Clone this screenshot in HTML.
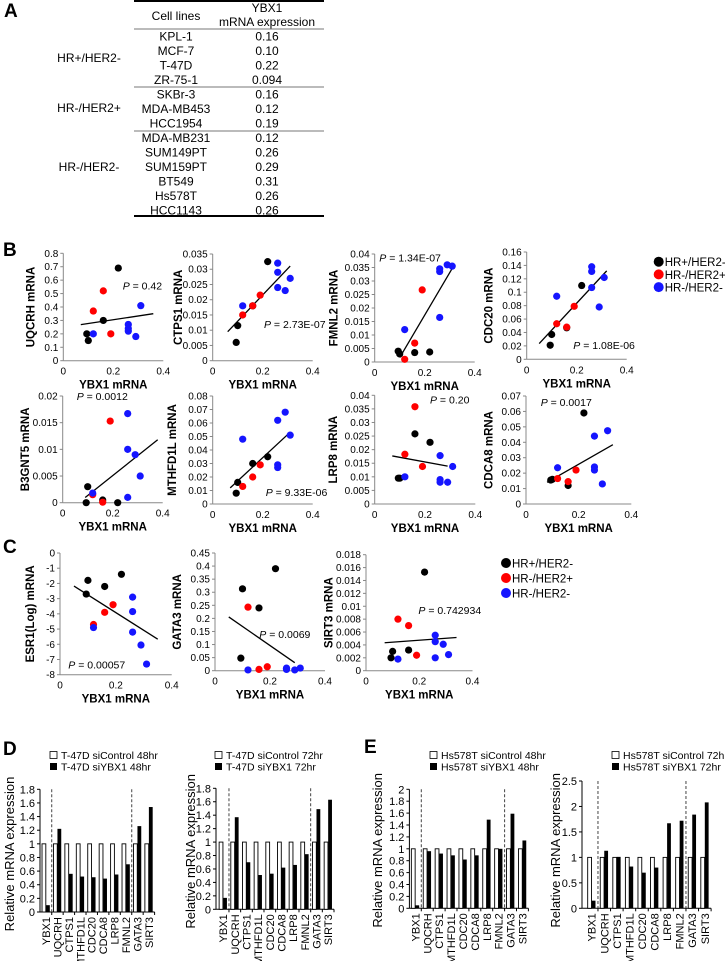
<!DOCTYPE html>
<html><head><meta charset="utf-8">
<style>
html,body{margin:0;padding:0;background:#fff;}
svg{display:block;font-family:"Liberation Sans",Arial,sans-serif;}
</style></head>
<body>
<svg id="fig" width="725" height="961" viewBox="0 0 725 961" xmlns="http://www.w3.org/2000/svg">
<g id="tableA" font-size="12" fill="#000">
  <text x="4" y="17" font-size="19" font-weight="bold">A</text>
  <line x1="134" y1="1" x2="324" y2="1" stroke="#000" stroke-width="2"/>
  <text x="176" y="20" text-anchor="middle">Cell lines</text>
  <text x="267" y="12" text-anchor="middle">YBX1</text>
  <text x="267" y="26" text-anchor="middle">mRNA expression</text>
  <line x1="134" y1="29" x2="324" y2="29" stroke="#777" stroke-width="1"/>
  <line x1="134" y1="87" x2="324" y2="87" stroke="#777" stroke-width="1"/>
  <line x1="134" y1="131" x2="324" y2="131" stroke="#777" stroke-width="1"/>
  <line x1="134" y1="216" x2="324" y2="216" stroke="#000" stroke-width="2"/>
  <text x="89" y="62" text-anchor="middle">HR+/HER2-</text>
  <text x="89" y="112" text-anchor="middle">HR-/HER2+</text>
  <text x="89" y="171" text-anchor="middle">HR-/HER2-</text>
  <g id="tableRows"></g>
</g>
<g id="plots"></g>
</svg>
<script>
// ---- data ----
const cellLines=["KPL-1","MCF-7","T-47D","ZR-75-1","SKBr-3","MDA-MB453","HCC1954","MDA-MB231","SUM149PT","SUM159PT","BT549","Hs578T","HCC1143"];
const cellX=[0.16,0.10,0.22,0.094,0.16,0.12,0.19,0.12,0.26,0.29,0.31,0.26,0.26];
const cellXLabels=["0.16","0.10","0.22","0.094","0.16","0.12","0.19","0.12","0.26","0.29","0.31","0.26","0.26"];
const groupIdx=[0,0,0,0,1,1,1,2,2,2,2,2,2];
const groupNames=["HR+/HER2-","HR-/HER2+","HR-/HER2-"];
const groupColors=["#000","#f00","#1515ff"];

const yUQCRH=[0.30,0.15,0.69,0.20,0.52,0.37,0.20,0.20,0.27,0.18,0.41,0.24,0.22];
const yCTPS1=[0.018,0.0115,0.0325,0.006,0.018,0.015,0.0215,0.018,0.032,0.023,0.027,0.029,0.024];
const yFMNL2=[0.0035,0.003,0.0037,0.004,0.007,0.001,0.0267,0.012,0.0345,0.036,0.0355,0.0335,0.0165];
const yCDC20=[0.047,0.037,0.11,0.021,0.048,0.053,0.079,0.094,0.138,0.078,0.122,0.131,0.107];
const yB3GNT5=[0.0005,0.003,0,0,0.0001,0.0015,0.0153,0.0018,0.0167,0.009,0.005,0.01,0.001];
const yMTHFD1L=[0.030,0.016,0.035,0.008,0.020,0.013,0.029,0.048,0.062,0.068,0.051,0.029,0.027];
const yLRP8=[0.0258,0.0095,0.0227,0.0095,0.0358,0.0183,0.0138,0.01,0.0178,0.008,0.0138,0.009,0.008];
const yCDCA8=[0.012,0.016,0.059,0.0155,0.0145,0.0165,0.022,0.0235,0.044,0.013,0.0475,0.024,0.022];
const yESR1=[-2.2,-1.8,-1.4,-2.7,-3.9,-4.7,-3.4,-4.9,-2.9,-6.05,-7.3,-3.85,-5.2];
const yGATA3=[0.24,0.313,0.39,0.048,0.005,0.243,0.015,0.003,0.01,0.003,0.01,0.005,0.008];
const ySIRT3=[0.0032,0.003,0.0153,0.002,0.007,0.008,0.0024,0.0018,0.0055,0.0041,0.0025,0.0045,0.002];
const pLabels=["0.42","2.73E-07","1.34E-07","1.08E-06","0.0012","9.33E-06","0.20","0.0017","0.00057","0.0069","0.742934"];

const barCats=["YBX1","UQCRH","CTPS1","MTHFD1L","CDC20","CDCA8","LRP8","FMNL2","GATA3","SIRT3"];
const ctrlD48=[1,1,1,1,1,1,1,1,1,1];
const siD48=[0.1,1.22,0.56,0.52,0.51,0.49,0.55,0.7,1.26,1.54];
const ctrlD72=[1,1,1,1,1,1,1,1,1,1];
const siD72=[0.17,1.37,0.7,0.51,0.53,0.62,0.66,0.82,1.49,1.63];
const ctrlE48=[1,1,1,1,1,1,1,1,1,1];
const siE48=[0.05,0.96,0.92,0.89,0.82,0.89,1.49,1.0,1.59,1.14];
const ctrlE72=[1,1,1,1,1,1,1,1,1,1];
const siE72=[0.15,1.13,1.01,0.82,0.7,0.8,1.67,1.72,1.84,2.08];

const NS="http://www.w3.org/2000/svg";
function mk(tag,attrs,parent,txt){const e=document.createElementNS(NS,tag);for(const k in attrs)e.setAttribute(k,attrs[k]);if(txt!==undefined)e.textContent=txt;parent.appendChild(e);return e;}
const root=document.getElementById('plots');

// table rows
const tr=document.getElementById('tableRows');
cellLines.forEach((c,i)=>{
  const y=40.5+i*14.5;
  const t1=mk('text',{x:176,y:y,'text-anchor':'middle'},tr,c);
  
  
  const t2=mk('text',{x:267,y:y,'text-anchor':'middle'},tr,cellXLabels[i]);
  
  
});

function fmt(v){return String(Math.round(v*1e6)/1e6);}

function scatter(c){
  const g=mk('g',{},root);
  
  
  const sx=v=>c.ax+(c.x4-c.ax)*v/0.4;
  const sy=v=>c.bot-(c.bot-c.top)*(v-c.ymin)/(c.ymax-c.ymin);
  mk('line',{x1:c.ax,y1:c.top,x2:c.ax,y2:c.bot,stroke:'#888','stroke-width':1},g);
  mk('line',{x1:c.ax,y1:c.bot,x2:c.x4,y2:c.bot,stroke:'#888','stroke-width':1},g);
  const n=Math.round((c.ymax-c.ymin)/c.step);
  for(let i=0;i<=n;i++){const v=c.ymin+i*c.step;const y=sy(v);
    mk('line',{x1:c.ax-3,y1:y,x2:c.ax,y2:y,stroke:'#888'},g);
    const t=mk('text',{x:c.ax-5,y:y+3.5,'text-anchor':'end','font-size':10},g,fmt(v));
    
    
  }
  [0,0.2,0.4].forEach(v=>{
    const t=mk('text',{x:sx(v),y:c.bot+14,'text-anchor':'middle','font-size':10},g,fmt(v));
    
    
  });
  const xl=mk('text',{x:(c.ax+c.x4)/2,y:c.bot+28,'text-anchor':'middle','font-size':11.5,'font-weight':'bold'},g,'YBX1 mRNA');
  
  
  const yl=mk('text',{x:0,y:0,'text-anchor':'middle','font-size':11.5,'font-weight':'bold',transform:`translate(${c.ylx+4},${(c.top+c.bot)/2}) rotate(-90)`},g,c.ylabel);
  
  
  // regression
  const ys=c.ys;let mx=0,my=0;cellX.forEach((x,i)=>{mx+=x;my+=ys[i];});mx/=cellX.length;my/=cellX.length;
  let sxy=0,sxx=0;cellX.forEach((x,i)=>{sxy+=(x-mx)*(ys[i]-my);sxx+=(x-mx)*(x-mx);});
  const b=sxy/sxx,a=my-b*mx;
  const fl=mk('line',{x1:sx(c.f0),y1:sy(a+b*c.f0),x2:sx(c.f1),y2:sy(a+b*c.f1),stroke:'#000','stroke-width':1.3},g);
  
  
  cellX.forEach((x,i)=>{
    const p=mk('circle',{cx:sx(x),cy:sy(ys[i]),r:3.6,fill:groupColors[groupIdx[i]]},g);
    
    
  });
  const pt=mk('text',{x:c.px,y:c.py+3.5,'font-size':10.5},g);
  
  
  mk('tspan',{'font-style':'italic'},pt,'P');
  mk('tspan',{},pt,' = '+pLabels[c.pi]);
}

scatter({id:'uqcrh-plot',ylabel:'UQCRH mRNA',ys:yUQCRH,ax:63.3,x4:163.3,top:253.3,bot:360.7,ymin:0,ymax:0.8,step:0.1,pi:0,px:122.7,py:286,ylx:30.7,f0:0.07,f1:0.36});
scatter({id:'ctps1-plot',ylabel:'CTPS1 mRNA',ys:yCTPS1,ax:212.7,x4:312.7,top:254,bot:360.7,ymin:0,ymax:0.035,step:0.005,pi:1,px:264,py:324.7,ylx:178,f0:0.06,f1:0.31});
scatter({id:'fmnl2-plot',ylabel:'FMNL2 mRNA',ys:yFMNL2,ax:374.7,x4:474.7,top:254,bot:362,ymin:0,ymax:0.04,step:0.005,pi:2,px:379.3,py:258,ylx:333.3,f0:0.1,f1:0.32});
scatter({id:'cdc20-plot',ylabel:'CDC20 mRNA',ys:yCDC20,ax:526.7,x4:626.7,top:252,bot:359.3,ymin:0,ymax:0.16,step:0.02,pi:3,px:573.3,py:345.7,ylx:488.7,f0:0.05,f1:0.32});
scatter({id:'b3gnt5-plot',ylabel:'B3GNT5 mRNA',ys:yB3GNT5,ax:62.7,x4:162.7,top:396,bot:502.7,ymin:0,ymax:0.02,step:0.005,pi:4,px:76.7,py:396.7,ylx:25,f0:0.09,f1:0.38});
scatter({id:'mthfd1l-plot',ylabel:'MTHFD1L mRNA',ys:yMTHFD1L,ax:212.7,x4:312.7,top:396,bot:504,ymin:0,ymax:0.08,step:0.01,pi:5,px:265.7,py:492.3,ylx:172,f0:0.07,f1:0.31});
scatter({id:'lrp8-plot',ylabel:'LRP8 mRNA',ys:yLRP8,ax:374.7,x4:475.3,top:395.3,bot:504,ymin:0,ymax:0.04,step:0.005,pi:6,px:430,py:400,ylx:333,f0:0.07,f1:0.29});
scatter({id:'cdca8-plot',ylabel:'CDCA8 mRNA',ys:yCDCA8,ax:526,x4:631.3,top:396,bot:504,ymin:0,ymax:0.07,step:0.01,pi:7,px:540.7,py:402.7,ylx:488.7,f0:0.08,f1:0.33});
scatter({id:'esr1-plot',ylabel:'ESR1(Log) mRNA',ys:yESR1,ax:60,x4:171.7,top:553,bot:674.7,ymin:-8,ymax:0,step:1,pi:8,px:68.3,py:665,ylx:30,f0:0.05,f1:0.35});
scatter({id:'gata3-plot',ylabel:'GATA3 mRNA',ys:yGATA3,ax:215,x4:325,top:553,bot:670.7,ymin:0,ymax:0.45,step:0.05,pi:9,px:259.3,py:634.7,ylx:177,f0:0.05,f1:0.29});
scatter({id:'sirt3-plot',ylabel:'SIRT3 mRNA',ys:ySIRT3,ax:366,x4:472.5,top:554.7,bot:670.7,ymin:0,ymax:0.018,step:0.002,pi:10,px:418.4,py:610.7,ylx:328.3,f0:0.07,f1:0.34});

function legend(x,y0,dy,id){
  const g=mk('g',{},root);
  
  
  groupNames.forEach((n,i)=>{
    mk('circle',{cx:x,cy:y0+i*dy,r:5,fill:groupColors[i]},g);
    const t=mk('text',{x:x+6,y:y0+i*dy+4.5,'font-size':11.5},g,n);
    
    
  });
}
legend(658.7,261.7,12.7,'legend-b');
legend(506,563,15,'legend-c');

function panelLabel(t,x,y,name){const e=mk('text',{x:x,y:y,'font-size':19,'font-weight':'bold'},root,t);}
panelLabel('B',3,256,'panel-b-label');
panelLabel('C',3,553,'panel-c-label');
panelLabel('D',3,755,'panel-d-label');
panelLabel('E',364,753,'panel-e-label');

function bars(c){
  const g=mk('g',{},root);
  
  
  const sy=v=>c.bot-(c.bot-c.top)*v/c.ymax;
  const xEnd=c.x0+c.gw*barCats.length;
  mk('line',{x1:c.ax,y1:c.top,x2:c.ax,y2:c.bot,stroke:'#000','stroke-width':1},g);
  mk('line',{x1:c.ax,y1:c.bot,x2:xEnd,y2:c.bot,stroke:'#000','stroke-width':1},g);
  const n=Math.round(c.ymax/c.step);
  for(let i=0;i<=n;i++){const v=i*c.step,y=sy(v);
    mk('line',{x1:c.ax-3,y1:y,x2:c.ax,y2:y,stroke:'#000'},g);
    const t=mk('text',{x:c.ax-5,y:y+4,'text-anchor':'end','font-size':11},g,fmt(v));
    
    
  }
  [1,8].forEach(k=>{const d=mk('line',{x1:c.x0+k*c.gw,y1:c.top,x2:c.x0+k*c.gw,y2:c.bot,stroke:'#444','stroke-dasharray':'3,2'},g);
    
    });
  barCats.forEach((cat,i)=>{
    const cx=c.x0+c.gw*(i+0.5);
    mk('line',{x1:c.x0+c.gw*(i+1),y1:c.bot,x2:c.x0+c.gw*(i+1),y2:c.bot+3,stroke:'#000'},g);
    const w=mk('rect',{x:cx-4,y:sy(c.ctrl[i]),width:3.8,height:c.bot-sy(c.ctrl[i]),fill:'#fff',stroke:'#000','stroke-width':0.9},g);
    
    
    const b=mk('rect',{x:cx,y:sy(c.si[i]),width:3.8,height:c.bot-sy(c.si[i]),fill:'#000'},g);
    
    
    const t=mk('text',{x:0,y:0,'text-anchor':'end','font-size':11,transform:`translate(${cx+4},${c.bot+5}) rotate(-90)`},g,cat);
    
    
  });
  const yl=mk('text',{x:0,y:0,'text-anchor':'middle','font-size':13,transform:`translate(${c.ylx+5},${c.bot-58}) rotate(-90)`},g,'Relative mRNA expression');
  
  
  const lg=mk('g',{},g);
  
  
  mk('rect',{x:c.lx,y:751.5,width:7,height:7,fill:'#fff',stroke:'#000','stroke-width':0.8},lg);
  const t1=mk('text',{x:c.lx+11,y:759,'font-size':10.5},lg,c.l1);
  
  
  mk('rect',{x:c.lx,y:763,width:7,height:7,fill:'#000'},lg);
  const t2=mk('text',{x:c.lx+11,y:770.5,'font-size':10.5},lg,c.l2);
  
  
}
bars({id:'t47d-48hr-chart',ctrl:ctrlD48,si:siD48,ax:40,x0:40.3,gw:11.43,top:789.3,bot:912,ymax:1.8,step:0.2,ylx:9,lx:50,l1:'T-47D siControl 48hr',l2:'T-47D siYBX1 48hr'});
bars({id:'t47d-72hr-chart',ctrl:ctrlD72,si:siD72,ax:216,x0:217.3,gw:11.67,top:788.3,bot:909.3,ymax:1.8,step:0.2,ylx:190,lx:215,l1:'T-47D siControl 72hr',l2:'T-47D siYBX1 72hr'});
bars({id:'hs578t-48hr-chart',ctrl:ctrlE48,si:siE48,ax:409.4,x0:409.4,gw:11.9,top:789.3,bot:908.3,ymax:2,step:0.2,ylx:377,lx:430,l1:'Hs578T siControl 48hr',l2:'Hs578T siYBX1 48hr'});
bars({id:'hs578t-72hr-chart',ctrl:ctrlE72,si:siE72,ax:582,x0:585.4,gw:12.57,top:781,bot:908.3,ymax:2.5,step:0.5,ylx:555,lx:612,l1:'Hs578T siControl 72hr',l2:'Hs578T siYBX1 72hr'});
</script>
</body></html>
